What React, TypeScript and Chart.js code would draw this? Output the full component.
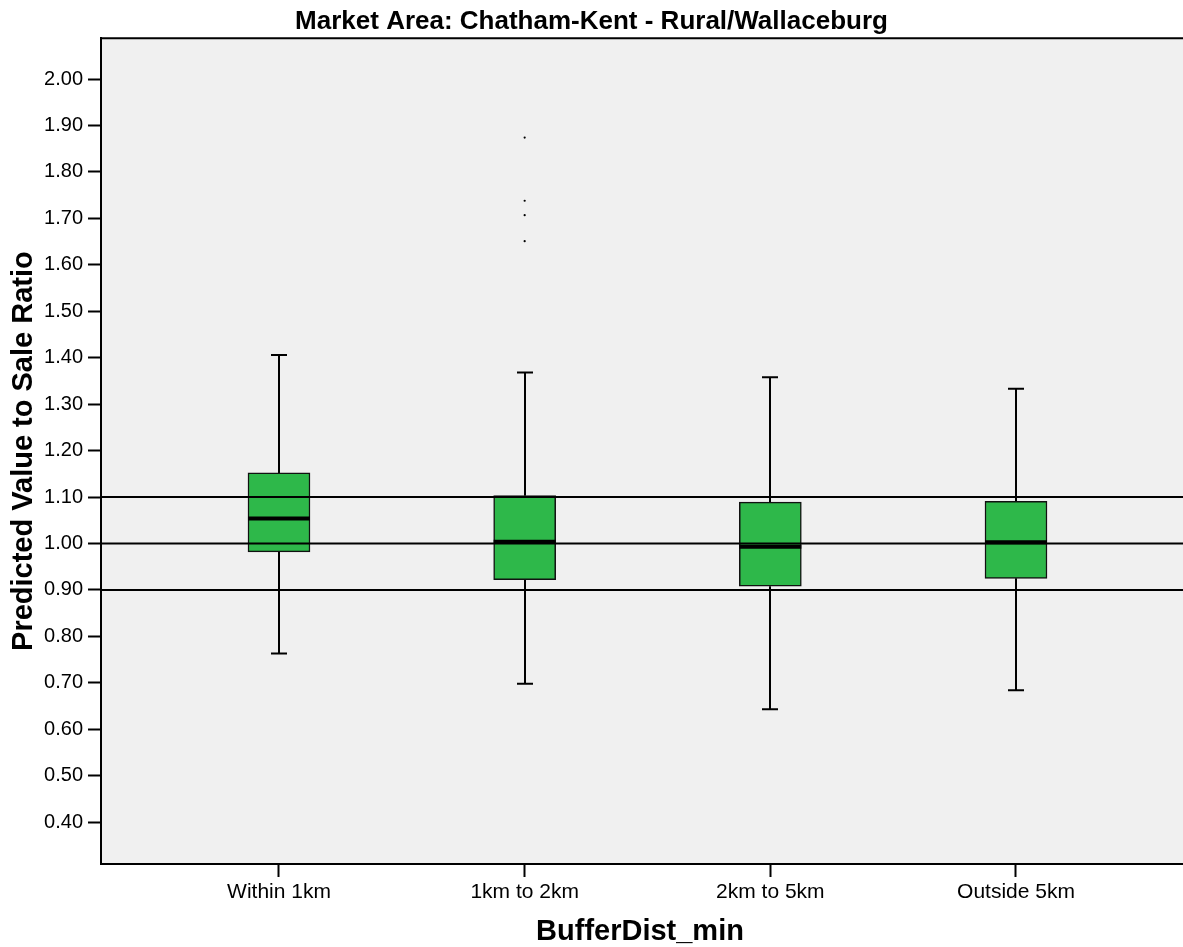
import React, { useEffect, useRef } from "react";
import { Chart, registerables } from "chart.js";

Chart.register(...registerables);

const FONT = "'Liberation Sans', Arial, Helvetica, sans-serif";

const categories = ["Within 1km", "1km to 2km", "2km to 5km", "Outside 5km"];
const whiskerLow = [0.763, 0.698, 0.643, 0.684];
const q1 = [0.982, 0.922, 0.908, 0.925];
const median = [1.054, 1.004, 0.993, 1.003];
const q3 = [1.152, 1.103, 1.089, 1.091];
const whiskerHigh = [1.406, 1.368, 1.358, 1.333];
const outlierCategory = [2, 2, 2, 2];
const outlierValues = [1.874, 1.738, 1.707, 1.651];
const referenceLines = [0.9, 1.0, 1.1];
const yTicks = [0.4, 0.5, 0.6, 0.7, 0.8, 0.9, 1.0, 1.1, 1.2, 1.3, 1.4, 1.5, 1.6, 1.7, 1.8, 1.9, 2.0];

const boxPlugin = {
  id: "boxExtras",
  beforeDraw(chart: any) {
    const { ctx, chartArea: a } = chart;
    ctx.save();
    ctx.fillStyle = "#f0f0f0";
    ctx.fillRect(a.left, a.top, chart.width - a.left, a.bottom - a.top);
    ctx.restore();
  },
  beforeDatasetsDraw(chart: any) {
    const { ctx } = chart;
    const xs = chart.scales.x;
    const ys = chart.scales.y;
    ctx.save();
    ctx.strokeStyle = "#000";
    ctx.lineWidth = 2;
    categories.forEach((_, i) => {
      const x = Math.round(xs.getPixelForValue(i + 1));
      const yHi = ys.getPixelForValue(whiskerHigh[i]);
      const yQ3 = ys.getPixelForValue(q3[i]);
      const yQ1 = ys.getPixelForValue(q1[i]);
      const yLo = ys.getPixelForValue(whiskerLow[i]);
      ctx.beginPath();
      ctx.moveTo(x, yHi);
      ctx.lineTo(x, yQ3);
      ctx.moveTo(x, yQ1);
      ctx.lineTo(x, yLo);
      ctx.moveTo(x - 8, yHi);
      ctx.lineTo(x + 8, yHi);
      ctx.moveTo(x - 8, yLo);
      ctx.lineTo(x + 8, yLo);
      ctx.stroke();
    });
    ctx.restore();
  },
  afterDatasetsDraw(chart: any) {
    const { ctx, chartArea: a } = chart;
    const ys = chart.scales.y;
    const meta = chart.getDatasetMeta(0);
    ctx.save();
    ctx.strokeStyle = "#000";
    ctx.lineWidth = 4;
    meta.data.forEach((bar: any, i: number) => {
      const y = ys.getPixelForValue(median[i]);
      ctx.beginPath();
      ctx.moveTo(bar.x - bar.width / 2, y);
      ctx.lineTo(bar.x + bar.width / 2, y);
      ctx.stroke();
    });
    ctx.lineWidth = 2;
    referenceLines.forEach((v) => {
      const y = ys.getPixelForValue(v);
      ctx.beginPath();
      ctx.moveTo(a.left, y);
      ctx.lineTo(chart.width, y);
      ctx.stroke();
    });
    ctx.beginPath();
    ctx.moveTo(a.left, a.top);
    ctx.lineTo(chart.width, a.top);
    ctx.stroke();
    ctx.restore();
  },
  afterDraw(chart: any) {
    const { ctx, chartArea: a } = chart;
    ctx.save();
    ctx.strokeStyle = "#000";
    ctx.lineWidth = 2;
    ctx.beginPath();
    ctx.moveTo(a.right - 1, Math.round(a.bottom));
    ctx.lineTo(chart.width, Math.round(a.bottom));
    ctx.stroke();
    ctx.restore();
  },
};

export default function App() {
  const ref = useRef<HTMLCanvasElement>(null);
  useEffect(() => {
    document.body.style.margin = "0";
    const chart = new Chart(ref.current!, {
      type: "bar",
      data: {
        datasets: [
          {
            type: "bar",
            data: categories.map((_, i) => ({ x: i + 1, y: [q1[i], q3[i]] })) as any,
            backgroundColor: "#2eb84a",
            borderColor: "#111",
            borderWidth: 1.5,
            borderSkipped: false,
            barThickness: 62,
          } as any,
          {
            type: "scatter",
            data: outlierValues.map((v, i) => ({ x: outlierCategory[i], y: v })),
            pointRadius: 1.1,
            backgroundColor: "#000",
            borderWidth: 0,
          } as any,
        ],
      },
      options: {
        animation: false,
        responsive: false,
        events: [],
        layout: { padding: 0 },
        plugins: {
          legend: { display: false },
          tooltip: { enabled: false },
          title: {
            display: true,
            text: "Market Area: Chatham-Kent - Rural/Wallaceburg",
            color: "#000",
            font: { family: FONT, size: 26, weight: "bold" },
            padding: { top: 6, bottom: 1 },
          },
        },
        scales: {
          x: {
            type: "linear",
            offset: false,
            min: 0.2755,
            max: 4.6635,
            afterBuildTicks: (s: any) => {
              s.ticks = categories.map((_, i) => ({ value: i + 1 }));
            },
            afterFit: (s: any) => {
              s.height = 83;
            },
            ticks: {
              color: "#000",
              font: { family: FONT, size: 21 },
              padding: 3,
              maxRotation: 0,
              autoSkip: false,
              callback: (v: any) => categories[Math.round(Number(v)) - 1] ?? "",
            },
            grid: { offset: false, drawOnChartArea: false, tickLength: 13, tickColor: "#000", tickWidth: 2 } as any,
            border: { display: true, color: "#000", width: 2 },
            title: {
              display: true,
              text: "BufferDist_min",
              color: "#000",
              font: { family: FONT, size: 29, weight: "bold" },
              padding: { top: 0, bottom: -2 },
            },
          },
          y: {
            type: "linear",
            min: 0.31,
            max: 2.088,
            afterBuildTicks: (s: any) => {
              s.ticks = yTicks.map((v) => ({ value: v }));
            },
            afterFit: (s: any) => {
              s.width = 101;
            },
            ticks: {
              color: "#000",
              font: { family: FONT, size: 20 },
              padding: 5,
              callback: (v: any) => Number(v).toFixed(2),
            },
            grid: { drawOnChartArea: false, tickLength: 13, tickColor: "#000", tickWidth: 2 } as any,
            border: { display: true, color: "#000", width: 2 },
            title: {
              display: true,
              text: "Predicted Value to Sale Ratio",
              color: "#000",
              font: { family: FONT, size: 29, weight: "bold" },
              padding: { top: 7, bottom: 0 },
            },
          },
        },
      } as any,
      plugins: [boxPlugin],
    });
    return () => chart.destroy();
  }, []);
  return <canvas ref={ref} width={1183} height={947} style={{ display: "block" }} />;
}
